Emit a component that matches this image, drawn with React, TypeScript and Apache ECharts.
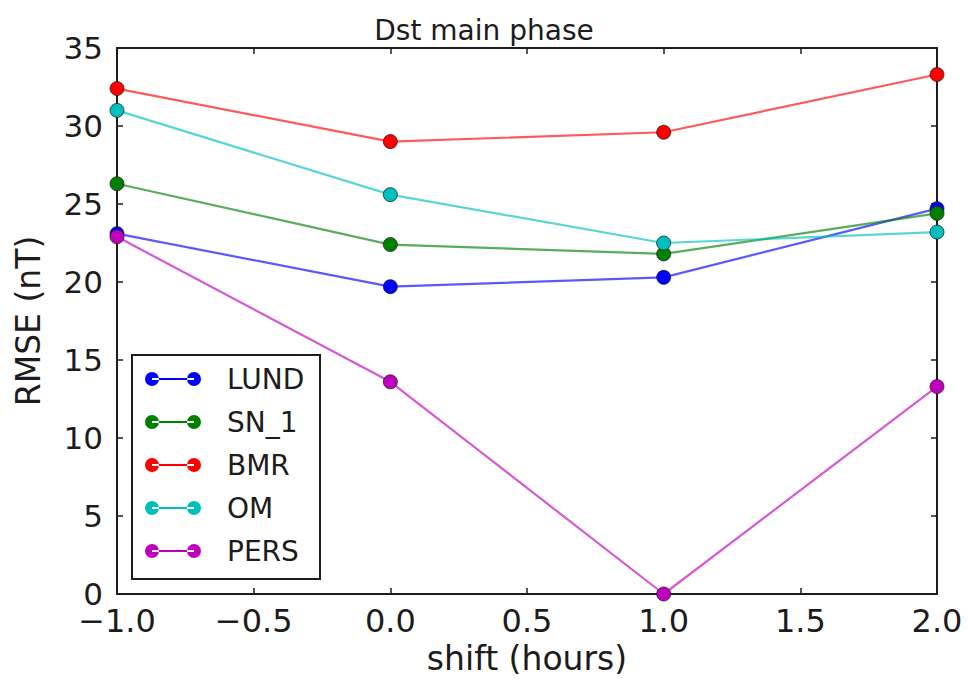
import React, { useEffect, useRef } from "react";
import * as echarts from "echarts";

// shift values (hours) on the x axis
const shifts = [-1.0, 0.0, 1.0, 2.0];

// RMSE (nT) per model at each shift
const lund = [23.1, 19.7, 20.3, 24.7];
const sn1 = [26.3, 22.4, 21.8, 24.4];
const bmr = [32.4, 29.0, 29.6, 33.3];
const om = [31.0, 25.6, 22.5, 23.2];
const pers = [22.9, 13.6, 0.0, 13.3];

const seriesNames = ["LUND", "SN_1", "BMR", "OM", "PERS"];
const seriesColors = ["#0000ff", "#008000", "#ff0000", "#00bfbf", "#bf00bf"];
const seriesValues = [lund, sn1, bmr, om, pers];

const FONT = "DejaVu Sans";
const INK = "#1c1c1c";

// legend glyph: two dots joined by a thin line
const legendIcon =
  "path://M0,7a7,7 0 1,0 14,0a7,7 0 1,0 -14,0zM42,7a7,7 0 1,0 14,0a7,7 0 1,0 -14,0zM7,6h42v2h-42z";

const fmt = (v: number) => (v < 0 ? "\u2212" + Math.abs(v).toFixed(1) : v.toFixed(1));

export default function App() {
  const ref = useRef<HTMLDivElement>(null);

  useEffect(() => {
    if (!ref.current) return;
    const chart = echarts.init(ref.current, null, { renderer: "svg" });

    const tickStyle = { lineStyle: { color: INK, width: 1.5 } };
    const frameLine = { show: true, onZero: false, lineStyle: { color: INK, width: 2 } };

    chart.setOption({
      animation: false,
      backgroundColor: "#ffffff",
      title: {
        text: "Dst main phase",
        left: "center",
        top: 11,
        textStyle: { fontFamily: FONT, fontSize: 28, fontWeight: "normal", color: INK },
      },
      grid: { left: 117, right: 31, top: 48, bottom: 87 },
      legend: {
        orient: "vertical",
        left: 145,
        top: 365,
        padding: 0,
        itemWidth: 56,
        itemHeight: 14,
        itemGap: 15,
        icon: legendIcon,
        data: seriesNames,
        itemStyle: { borderWidth: 0 },
        textStyle: {
          fontFamily: FONT,
          fontSize: 28,
          lineHeight: 28,
          color: INK,
          padding: [0, 0, 0, 21],
        },
        z: 6,
      },
      graphic: [
        {
          type: "rect",
          z: 5,
          shape: { x: 132, y: 355, width: 188, height: 224 },
          style: { fill: "#ffffff", stroke: INK, lineWidth: 2 },
        },
      ],
      xAxis: [
        {
          type: "value",
          min: -1,
          max: 2,
          interval: 0.5,
          name: "shift (hours)",
          nameLocation: "middle",
          nameGap: 48,
          nameTextStyle: { fontFamily: FONT, fontSize: 33, color: INK },
          axisLine: frameLine,
          axisTick: { show: true, inside: true, length: 6, ...tickStyle },
          axisLabel: {
            fontFamily: FONT,
            fontSize: 32,
            lineHeight: 24,
            color: INK,
            margin: 15,
            formatter: fmt,
          },
          splitLine: { show: false },
        },
        {
          type: "value",
          position: "top",
          min: -1,
          max: 2,
          interval: 0.5,
          axisLine: frameLine,
          axisTick: { show: true, inside: true, length: 6, ...tickStyle },
          axisLabel: { show: false },
          splitLine: { show: false },
        },
      ],
      yAxis: [
        {
          type: "value",
          min: 0,
          max: 35,
          interval: 5,
          name: "RMSE (nT)",
          nameLocation: "middle",
          nameGap: 72,
          nameTextStyle: { fontFamily: FONT, fontSize: 33, color: INK },
          axisLine: frameLine,
          axisTick: { show: true, inside: true, length: 6, ...tickStyle },
          axisLabel: { fontFamily: FONT, fontSize: 31, lineHeight: 22, color: INK, margin: 14 },
          splitLine: { show: false },
        },
        {
          type: "value",
          position: "right",
          min: 0,
          max: 35,
          interval: 5,
          axisLine: frameLine,
          axisTick: { show: true, inside: true, length: 6, ...tickStyle },
          axisLabel: { show: false },
          splitLine: { show: false },
        },
      ],
      series: seriesNames.map((name, i) => ({
        name,
        type: "line",
        xAxisIndex: 0,
        yAxisIndex: 0,
        data: shifts.map((x, j) => [x, seriesValues[i][j]]),
        symbol: "circle",
        symbolSize: 14,
        clip: false,
        color: seriesColors[i],
        lineStyle: { color: seriesColors[i], width: 2.2, opacity: 0.65 },
        itemStyle: { color: seriesColors[i], borderColor: "#222", borderWidth: 0.8 },
      })),
    });

    return () => chart.dispose();
  }, []);

  return (
    <div
      ref={ref}
      style={{ position: "fixed", left: 0, top: 0, width: 968, height: 681 }}
    />
  );
}
